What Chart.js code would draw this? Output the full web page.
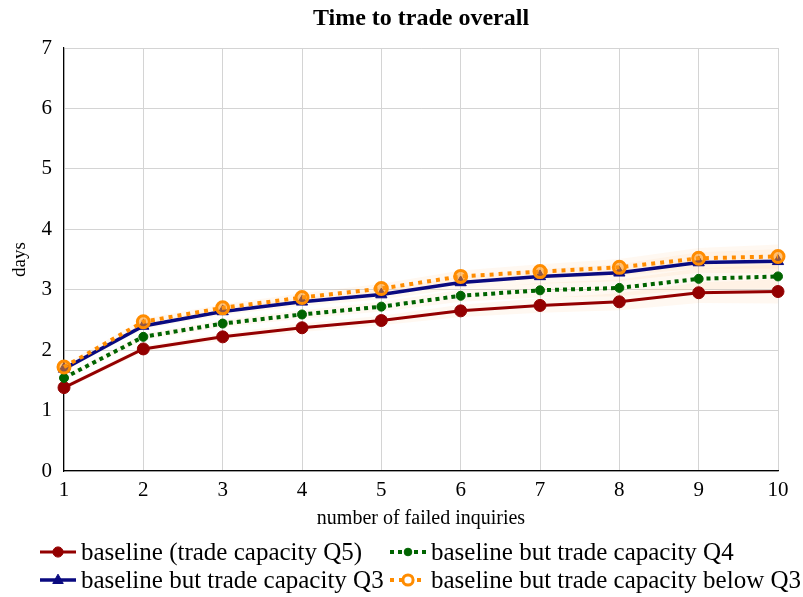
<!DOCTYPE html>
<html>
<head>
<meta charset="utf-8">
<title>Time to trade overall</title>
<script src="https://cdn.jsdelivr.net/npm/chart.js@4.4.1/dist/chart.umd.min.js"></script>
<style>
  html, body { margin: 0; padding: 0; background: #ffffff; }
  #wrap { width: 803px; height: 597px; position: relative; }
</style>
</head>
<body>
<div id="wrap"><canvas id="chart" width="803" height="597"></canvas></div>
<script>
// number of failed inquiries
const failedInquiries = ['1', '2', '3', '4', '5', '6', '7', '8', '9', '10'];

// mean time to trade (days) per scenario
const baselineQ5 = [1.38, 2.02, 2.22, 2.37, 2.49, 2.65, 2.74, 2.80, 2.95, 2.97];
const capacityQ4 = [1.54, 2.22, 2.44, 2.59, 2.72, 2.90, 2.99, 3.03, 3.18, 3.22];
const capacityQ3 = [1.69, 2.40, 2.64, 2.80, 2.92, 3.12, 3.22, 3.28, 3.45, 3.47];
const capacityBelowQ3 = [1.72, 2.47, 2.70, 2.87, 3.02, 3.22, 3.30, 3.37, 3.52, 3.55];

// confidence bands (lower / upper)
const baselineQ5Lo = [1.34, 1.97, 2.16, 2.30, 2.41, 2.55, 2.62, 2.66, 2.78, 2.77];
const baselineQ5Hi = [1.42, 2.07, 2.28, 2.44, 2.57, 2.75, 2.86, 2.94, 3.12, 3.17];
const capacityQ4Lo = [1.50, 2.17, 2.38, 2.52, 2.64, 2.80, 2.87, 2.89, 3.01, 3.02];
const capacityQ4Hi = [1.58, 2.27, 2.50, 2.66, 2.80, 3.00, 3.11, 3.17, 3.35, 3.42];
const capacityQ3Lo = [1.65, 2.35, 2.58, 2.73, 2.84, 3.02, 3.10, 3.14, 3.28, 3.27];
const capacityQ3Hi = [1.73, 2.45, 2.70, 2.87, 3.00, 3.22, 3.34, 3.42, 3.62, 3.67];
const belowQ3Lo = [1.68, 2.42, 2.64, 2.80, 2.94, 3.12, 3.18, 3.23, 3.35, 3.35];
const belowQ3Hi = [1.76, 2.52, 2.76, 2.94, 3.10, 3.32, 3.42, 3.51, 3.69, 3.75];

// y-axis tick values
const dayTicks = [0, 1, 2, 3, 4, 5, 6, 7];

const seriesNames = [
  'baseline (trade capacity Q5)',
  'baseline but trade capacity Q4',
  'baseline but trade capacity Q3',
  'baseline but trade capacity below Q3'
];

const SERIF = '"Liberation Serif", "DejaVu Serif", serif';
const BAND = 'rgba(255, 175, 100, 0.09)';

function bandPair(lo, hi) {
  return [
    { data: lo, borderColor: 'rgba(0,0,0,0)', backgroundColor: BAND, pointRadius: 0,
      borderWidth: 0, fill: false, order: 20 },
    { data: hi, borderColor: 'rgba(0,0,0,0)', backgroundColor: BAND, pointRadius: 0,
      borderWidth: 0, fill: '-1', order: 20 }
  ];
}

const lineDatasets = [
  { label: seriesNames[0], data: baselineQ5, borderColor: '#930000', backgroundColor: '#930000',
    borderWidth: 3, pointStyle: 'circle', pointRadius: 6, pointBorderWidth: 1,
    pointBorderColor: '#930000', pointBackgroundColor: '#930000', fill: false, order: 4,
    legendFill: '#930000' },
  { label: seriesNames[1], data: capacityQ4, borderColor: '#006400', backgroundColor: '#006400',
    borderWidth: 4, borderDash: [4, 4], pointStyle: 'circle', pointRadius: 4.5, pointBorderWidth: 1,
    pointBorderColor: '#006400', pointBackgroundColor: '#006400', fill: false, order: 3,
    legendFill: '#006400' },
  { label: seriesNames[2], data: capacityQ3, borderColor: '#0a0a80', backgroundColor: '#0a0a80',
    borderWidth: 3.5, pointStyle: 'triangle', pointRadius: 6.5, pointBorderWidth: 1,
    pointBorderColor: '#0a0a80', pointBackgroundColor: '#0a0a80', fill: false, order: 2,
    legendFill: '#0a0a80' },
  { label: seriesNames[3], data: capacityBelowQ3, borderColor: '#ff8c00', backgroundColor: '#ff8c00',
    borderWidth: 4, borderDash: [4, 5], pointStyle: 'circle', pointRadius: 6, pointBorderWidth: 3,
    pointBorderColor: '#ff8c00', pointBackgroundColor: 'rgba(255,150,20,0.55)', fill: false, order: 1,
    legendFill: '#ffffff' }
];

const datasets = [
  ...bandPair(baselineQ5Lo, baselineQ5Hi),
  ...bandPair(capacityQ4Lo, capacityQ4Hi),
  ...bandPair(capacityQ3Lo, capacityQ3Hi),
  ...bandPair(belowQ3Lo, belowQ3Hi),
  ...lineDatasets
];

// two-column legend drawn under the plot
const gridLegend = {
  id: 'gridLegend',
  afterDraw(chart) {
    const ctx = chart.ctx;
    const cols = [40, 390];
    const rows = [552, 580];
    ctx.save();
    ctx.font = '25px ' + SERIF;
    ctx.textBaseline = 'middle';
    lineDatasets.forEach((ds, k) => {
      const x = cols[k % 2];
      const y = rows[Math.floor(k / 2)];
      ctx.save();
      ctx.strokeStyle = ds.borderColor;
      ctx.lineWidth = ds.borderWidth;
      ctx.setLineDash(ds.borderDash || []);
      ctx.beginPath();
      ctx.moveTo(x, y);
      ctx.lineTo(x + 36, y);
      ctx.stroke();
      ctx.setLineDash([]);
      ctx.fillStyle = ds.legendFill;
      ctx.strokeStyle = ds.pointBorderColor;
      ctx.lineWidth = ds.pointBorderWidth;
      ctx.beginPath();
      if (ds.pointStyle === 'triangle') {
        const r = ds.pointRadius * 0.9;
        ctx.moveTo(x + 18, y - r);
        ctx.lineTo(x + 18 + r * 0.9, y + r * 0.6);
        ctx.lineTo(x + 18 - r * 0.9, y + r * 0.6);
        ctx.closePath();
      } else {
        ctx.arc(x + 18, y, ds.pointRadius * 0.85, 0, Math.PI * 2);
      }
      ctx.fill();
      ctx.stroke();
      ctx.restore();
      ctx.fillStyle = '#000';
      ctx.fillText(ds.label, x + 41, y + 1);
    });
    ctx.restore();
  }
};

new Chart(document.getElementById('chart'), {
  type: 'line',
  data: { labels: failedInquiries, datasets },
  plugins: [gridLegend],
  options: {
    responsive: false,
    animation: false,
    devicePixelRatio: 1,
    layout: { padding: { left: 0, right: 25, top: 0, bottom: 66 } },
    elements: { line: { tension: 0 } },
    plugins: {
      legend: { display: false },
      tooltip: { enabled: false },
      filler: { propagate: false },
      title: {
        display: true,
        fullSize: false,
        text: 'Time to trade overall',
        color: '#000',
        font: { family: SERIF, size: 24, weight: 'bold' },
        padding: { top: 4, bottom: 15.2 }
      }
    },
    scales: {
      x: {
        type: 'category',
        offset: false,
        grid: { color: '#d4d4d4', lineWidth: 1, drawTicks: false },
        border: { color: '#000', width: 1.2 },
        ticks: { color: '#000', font: { family: SERIF, size: 21 }, padding: 7, maxRotation: 0 },
        title: {
          display: true,
          text: 'number of failed inquiries',
          color: '#000',
          font: { family: SERIF, size: 20 },
          padding: { top: 4, bottom: 0 }
        },
        afterFit(scale) { scale.height = 60; }
      },
      y: {
        min: 0,
        max: 7,
        afterBuildTicks(scale) { scale.ticks = dayTicks.map(v => ({ value: v })); },
        grid: { color: '#d4d4d4', lineWidth: 1, drawTicks: false },
        border: { color: '#000', width: 1.2 },
        ticks: { color: '#000', font: { family: SERIF, size: 21 }, padding: 12 },
        title: {
          display: true,
          text: 'days',
          color: '#000',
          font: { family: SERIF, size: 19 },
          padding: { top: 9, bottom: 0 }
        },
        afterFit(scale) { scale.width = 64; }
      }
    }
  }
});
</script>
</body>
</html>
